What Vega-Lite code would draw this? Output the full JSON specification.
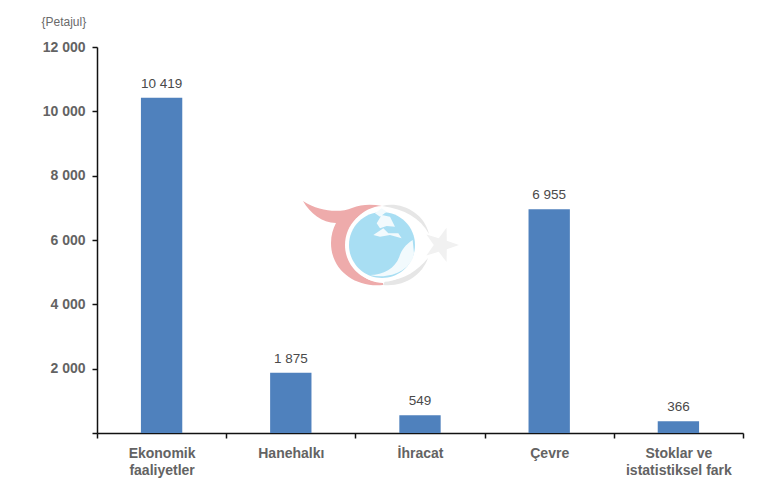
{
  "$schema": "https://vega.github.io/schema/vega-lite/v6.json",
  "width": 646,
  "height": 386,
  "autosize": {"type": "none"},
  "padding": {"left": 97, "top": 47, "right": 27, "bottom": 58},
  "background": "white",
  "datasets": {
    "energy": [
      {"kategori": "Ekonomik faaliyetler", "petajul": 10419, "etiket": "10 419"},
      {"kategori": "Hanehalkı", "petajul": 1875, "etiket": "1 875"},
      {"kategori": "İhracat", "petajul": 549, "etiket": "549"},
      {"kategori": "Çevre", "petajul": 6955, "etiket": "6 955"},
      {"kategori": "Stoklar ve istatistiksel fark", "petajul": 366, "etiket": "366"}
    ],
    "amblem": [{"kategori": "İhracat", "petajul": 5876}]
  },
  "encoding": {
    "x": {
      "field": "kategori",
      "type": "nominal",
      "sort": null,
      "scale": {
        "domain": ["Ekonomik faaliyetler", "Hanehalkı", "İhracat", "Çevre", "Stoklar ve istatistiksel fark"],
        "paddingInner": 0,
        "paddingOuter": 0
      },
      "title": null,
      "axis": {
        "orient": "bottom",
        "tickBand": "extent",
        "labelAngle": 0,
        "labelFont": "Liberation Sans",
        "labelFontSize": 14,
        "labelFontWeight": "bold",
        "labelColor": "#636363",
        "labelPadding": 8,
        "labelLineHeight": 17,
        "labelExpr": "datum.label == 'Ekonomik faaliyetler' ? ['Ekonomik', 'faaliyetler'] : datum.label == 'Stoklar ve istatistiksel fark' ? ['Stoklar ve\u00a0\u00a0\u00a0\u00a0\u00a0', 'istatistiksel fark\u00a0\u00a0\u00a0\u00a0\u00a0'] : datum.label",
        "domainColor": "#111111",
        "domainWidth": 1.5,
        "tickColor": "#111111",
        "tickSize": 5,
        "tickWidth": 1.5,
        "grid": false
      }
    },
    "y": {
      "field": "petajul",
      "type": "quantitative",
      "scale": {"domain": [0, 12000]},
      "title": "{Petajul}",
      "axis": {
        "values": [0, 2000, 4000, 6000, 8000, 10000, 12000],
        "labelExpr": "datum.value == 0 ? '' : replace(format(datum.value, ','), ',', ' ')",
        "labelFont": "Liberation Sans",
        "labelFontSize": 14,
        "labelFontWeight": "bold",
        "labelColor": "#636363",
        "labelPadding": 7,
        "titleFont": "Liberation Sans",
        "titleFontSize": 12,
        "titleFontWeight": "normal",
        "titleColor": "#6a6a6a",
        "titleAngle": 0,
        "titleAlign": "left",
        "titleBaseline": "middle",
        "titleX": -56,
        "titleY": -26,
        "domainColor": "#111111",
        "domainWidth": 1.5,
        "tickColor": "#111111",
        "tickSize": 5,
        "tickWidth": 1.5,
        "grid": false
      }
    }
  },
  "data": {"name": "energy"},
  "layer": [
    {"mark": {"type": "bar", "color": "#4f81bd", "width": {"band": 0.32}}},
    {
      "mark": {"type": "text", "baseline": "bottom", "dy": -7, "font": "Liberation Sans", "fontSize": 13.5, "color": "#4a4a4a"},
      "encoding": {"text": {"field": "etiket", "type": "nominal"}}
    },
    {
      "data": {"name": "amblem"},
      "mark": {"type": "point", "filled": true, "opacity": 1, "size": 25600, "color": "#eeabab",
        "shape": "M-1.4625,-0.5375 C-1.25,-0.4,-1,-0.3875,-0.85,-0.45 C-0.725,-0.5,-0.6,-0.5,-0.475,-0.475 C-0.725,-0.4625,-0.9125,-0.25,-0.9125,0 C-0.9125,0.2625,-0.725,0.475,-0.4625,0.4875 L-0.4625,0.5125 C-0.8125,0.55,-1.1125,0.325,-1.1125,-0.0125 C-1.1125,-0.1125,-1.0875,-0.1875,-1.05,-0.2625 C-1.225,-0.2625,-1.375,-0.3875,-1.4625,-0.5375 Z"}
    },
    {
      "data": {"name": "amblem"},
      "mark": {"type": "point", "filled": true, "opacity": 1, "size": 25600, "color": "#e6e6e6",
        "shape": "M-0.475,-0.475 C-0.25,-0.5375,0.05,-0.4,0.1125,-0.125 C0,-0.325,-0.1875,-0.4375,-0.475,-0.475 Z M-0.4625,0.5125 C-0.1875,0.5375,0.025,0.3875,0.1,0.175 C-0.025,0.325,-0.1875,0.45,-0.4375,0.4625 Z"}
    },
    {
      "data": {"name": "amblem"},
      "mark": {"type": "point", "filled": true, "opacity": 1, "size": 25600, "color": "#f1f1f1",
        "shape": "M0.4875,0.0125 L0.335,0.0655 L0.332,0.2265 L0.2347,0.098 L0.0805,0.145 L0.1725,0.0125 L0.0805,-0.12 L0.2347,-0.073 L0.332,-0.2015 L0.335,-0.0405 Z"}
    },
    {
      "data": {"name": "amblem"},
      "mark": {"type": "point", "filled": true, "opacity": 1, "size": 25600, "color": "#ffffff",
        "shape": "M-0.9375,0.0125 A0.4625,0.4625 0 1 0 -0.0125,0.0125 A0.4625,0.4625 0 1 0 -0.9375,0.0125 Z"}
    },
    {
      "data": {"name": "amblem"},
      "mark": {"type": "point", "filled": true, "opacity": 1, "size": 25600, "color": "#a8def3",
        "shape": "M-0.8875,0.0125 A0.4125,0.4125 0 1 0 -0.0625,0.0125 A0.4125,0.4125 0 1 0 -0.8875,0.0125 Z"}
    },
    {
      "data": {"name": "amblem"},
      "mark": {"type": "point", "filled": true, "opacity": 1, "size": 25600, "color": "#f2fafd",
        "shape": "M-0.0917,-0.05 L-0.075,0.1167 C-0.1042,0.325,-0.375,0.45,-0.625,0.3875 C-0.4583,0.3875,-0.3125,0.3042,-0.2583,0.1583 C-0.2292,0.075,-0.1875,0.0125,-0.0917,-0.05 Z M-0.5833,-0.1125 L-0.4583,-0.1958 L-0.3958,-0.1333 L-0.2708,-0.1333 L-0.2292,-0.0708 L-0.375,-0.1125 L-0.5,-0.0917 Z M-0.5417,-0.2583 L-0.4792,-0.3625 L-0.375,-0.3417 L-0.3125,-0.2167 L-0.4167,-0.225 L-0.5,-0.1958 Z M-0.5625,-0.3833 L-0.4792,-0.4458 L-0.4167,-0.4042 L-0.5,-0.3417 Z"}
    }
  ],
  "config": {
    "view": {"stroke": null}
  }
}
